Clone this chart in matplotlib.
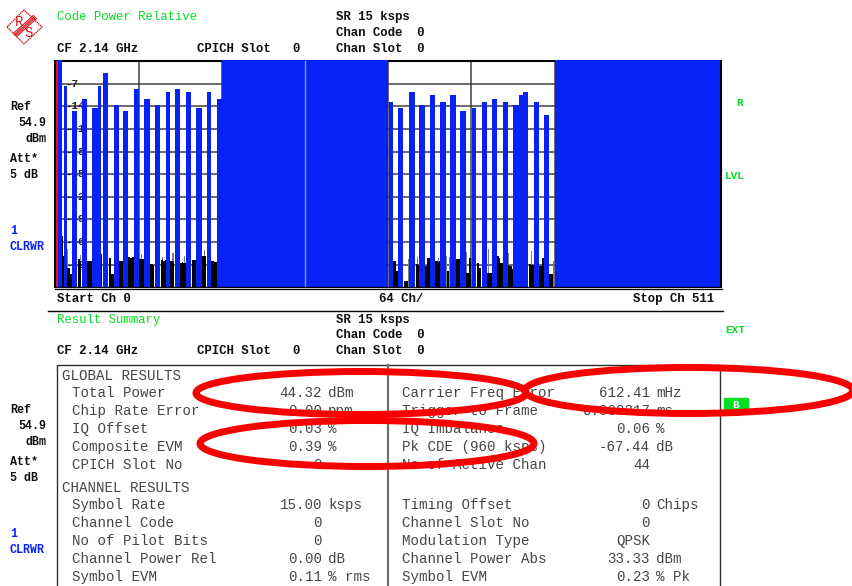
from matplotlib import pyplot as plt
from matplotlib.patches import Ellipse, Polygon, Rectangle

# code channel bars: start channel, end channel, level in dB (full scale blocks touch the top line)
bar_start = [2, 6.5, 12.9, 20.4, 28.1, 32.7, 36.5, 45, 51.9, 60.4, 68, 76.5, 85, 91.9, 100.4, 108, 116.5, 124.2, 128,
             256.5, 263.5, 272, 279.6, 288, 295.8, 303.5, 311.2, 320.4, 328, 335.8, 344.2, 352, 356.5, 359.6, 368,
             375.8, 384]
bar_end = [5, 8.8, 16.5, 24.2, 32.7, 35, 40.4, 48.8, 55.8, 64.2, 72.7, 80.4, 88, 95.8, 104.2, 112.7, 119.6, 128, 256,
           260, 267.3, 276.5, 284.2, 292, 300.4, 308, 315.8, 323.5, 332, 339.6, 348, 356.5, 359.6, 363.5, 372,
           379.6, 512]
bar_db = [0.4, -7.7, -15.4, -11.7, -14.5, -7.7, -3.7, -13.6, -15.4, -8.6, -11.7, -13.6, -9.6, -8.6, -9.6, -14.5, -9.6,
          -11.7, 0.4,
          -12.6, -14.5, -9.6, -13.6, -10.5, -12.6, -10.5, -15.4, -14.5, -12.6, -11.7, -12.6, -13.6, -10.5, -9.6,
          -12.6, -16.7, 0.4]

# noise floor between the bars
noise_ch = [5, 6, 9, 10, 11, 12, 17, 18, 19, 24, 25, 26, 27, 35, 41, 42, 43, 44, 49, 50, 51, 56, 57, 58, 59,
            64, 65, 66, 67, 73, 74, 75, 81, 82, 83, 84, 88, 89, 90, 96, 97, 98, 99, 105, 106, 107,
            113, 114, 115, 120, 121, 122, 123,
            260, 261, 262, 263, 268, 269, 270, 277, 278, 279, 284, 285, 286, 287, 292, 293, 294, 295,
            301, 302, 308, 309, 310, 316, 317, 318, 319, 324, 325, 326, 332, 333, 334, 335,
            340, 341, 342, 343, 348, 349, 350, 351, 364, 365, 366, 367, 372, 373, 374, 375, 380, 381, 382]
noise_db = [-54.2, -60.4, -64, -63.9, -66, -66, -61.4, -61.4, -62, -62, -62, -61.9, -62, -59.8, -61, -61, -66, -66,
            -62, -61.9, -62, -60.7, -60.8, -60.8, -60.7,
            -61.4, -61.4, -61.3, -61.4, -62.9, -62.9, -63, -61.5, -61.4, -62, -61.6, -61.9, -62, -61.9,
            -62.4, -62.3, -62.4, -62.5, -61.6, -61.7, -61.6, -60.3, -60.4, -60.3, -62, -62, -62.1, -62.2,
            -61.9, -62, -65, -65, -68, -68, -68, -62.9, -62.9, -63, -63.4, -63.4, -61, -61, -62, -62, -62.1, -62,
            -65, -65, -61.2, -61.2, -61.2, -65.5, -65.5, -60.8, -60.8, -62.4, -62.4, -63.9, -65.5, -65.5, -65.5, -65.6,
            -60.4, -61, -62.6, -62.6, -63.2, -63.4, -63.5, -64.3, -62.9, -62.9, -63, -63, -63.4, -63.4, -61, -61,
            -66, -66, -66]
spike_ch = [4, 8, 9, 19, 52, 66, 75, 82, 90, 99, 114, 124, 266, 271, 278, 294, 300, 303, 316, 326, 333, 344, 348, 366, 376, 383]
spike_db = [-57, -56.2, -58.3, -60, -60.2, -59.8, -62.8, -60.5, -59.5, -60.4, -58.6, -60.6,
            -64.5, -61.3, -60.6, -61, -60.4, -60.5, -59, -64.1, -58, -60, -59.5, -58.8, -61, -62]

grid_db = [-7, -14, -21, -28, -35, -42, -49, -56, -63]
grid_ch = [64, 128, 192, 256, 320, 384, 448]
tick_labels = ['-7', '-14', '-21', '-28', '-35', '-42', '-49', '-56', '-63']

# result table
global_names = ['Total Power', 'Chip Rate Error', 'IQ Offset', 'Composite EVM', 'CPICH Slot No']
global_vals = ['44.32', '0.00', '0.03', '0.39', '0']
global_units = ['dBm', 'ppm', '%', '%', '']
global_names2 = ['Carrier Freq Error', 'Trigger to Frame', 'IQ Imbalance', 'Pk CDE (960 ksps)', 'No of Active Chan']
global_vals2 = ['612.41', '0.000217', '0.06', '-67.44', '44']
global_units2 = ['mHz', 'ms', '%', 'dB', '']
chan_names = ['Symbol Rate', 'Channel Code', 'No of Pilot Bits', 'Channel Power Rel', 'Symbol EVM']
chan_vals = ['15.00', '0', '0', '0.00', '0.11']
chan_units = ['ksps', '', '', 'dB', '% rms']
chan_names2 = ['Timing Offset', 'Channel Slot No', 'Modulation Type', 'Channel Power Abs', 'Symbol EVM']
chan_vals2 = ['0', '0', 'QPSK', '33.33', '0.23']
chan_units2 = ['Chips', '', '', 'dBm', '% Pk']

MONO = 'Liberation Mono'
BLUE = '#0722f5'
GREEN = '#00e020'
TABLE_TEXT = '#454545'

fig = plt.figure(figsize=(8.53, 5.86), dpi=100)
fig.set_facecolor('white')

ax = fig.add_axes([55.5 / 853, 1 - 287.3 / 586, 665.6 / 853, 226.3 / 586])
ax.set_xlim(0, 512)
ax.set_ylim(-70, 0)
ax.set_xticks([])
ax.set_yticks([])
for name, s in ax.spines.items():
    s.set_color('black')
    s.set_linewidth(1.5)
    s.set_zorder(6)
ax.spines['top'].set_zorder(2.6)
ax.spines['bottom'].set_linewidth(0.9)

for d in grid_db:
    ax.axhline(d, color='#404040', lw=1.1, zorder=1)
for c in grid_ch:
    ax.axvline(c, color='#404040', lw=1.1, zorder=1)
for d, t in zip(grid_db, tick_labels):
    ax.text(7.3, d, t, ha='left', va='center', family=MONO, fontsize=7.8, weight='bold', color='#202020', zorder=1.5)

ax.bar(spike_ch, [d + 70 for d in spike_db], bottom=-70, width=0.8, align='edge', color='#808080', zorder=2)
ax.bar(noise_ch, [d + 70 for d in noise_db], bottom=-70, width=1.0, align='edge', color='black', zorder=2.5)
ax.bar(bar_start, [d + 70 for d in bar_db], bottom=-70, width=[e - s for s, e in zip(bar_start, bar_end)],
       align='edge', color=BLUE, zorder=3, clip_on=False)
ax.bar([0.5], [70], bottom=-70, width=1.5, align='edge', color='#e8141c', zorder=3)
ax.axvline(192, color='#7f95ff', lw=1.0, zorder=4)
ax.axvline(384, color='#a0a0a0', lw=0.8, zorder=2.8)

# overlay in pixel coordinates for the instrument text
ov = fig.add_axes([0, 0, 1, 1], facecolor='none')
ov.set_xlim(0, 853)
ov.set_ylim(586, 0)
ov.axis('off')


def label(x, y, s, size=8.9, color='#101010', weight='bold', ha='left'):
    ov.text(x, y, s, family=MONO, fontsize=size, color=color, weight=weight, ha=ha, va='center')


def header(y_top, y_mid, y_low, title):
    label(57, y_top, title, color=GREEN, weight='normal')
    label(336, y_top, 'SR 15 ksps')
    label(336, y_mid, 'Chan Code  0')
    label(57, y_low, 'CF 2.14 GHz')
    label(197, y_low, 'CPICH Slot   0')
    label(336, y_low, 'Chan Slot  0')


def side(y0):
    label(10, y0, 'Ref', size=8.4)
    label(18, y0 + 16, '54.9', size=8.4)
    label(26, y0 + 32, 'dBm', size=8.4)
    label(10, y0 + 52, 'Att*', size=8.4)
    label(10, y0 + 68, '5 dB', size=8.4)
    label(10, y0 + 124, '1', size=8.4, color=BLUE)
    label(10, y0 + 140, 'CLRWR', size=8.4, color=BLUE)


header(17, 33, 49, 'Code Power Relative')
header(320, 335, 351, 'Result Summary')
side(107)
side(410)

label(57, 299, 'Start Ch 0')
label(379, 299, '64 Ch/')
label(633, 299, 'Stop Ch 511')
label(736, 103, 'R', size=8, color=GREEN)
label(725, 176, 'LVL', size=8, color=GREEN)
label(725, 330, 'EXT', size=8, color=GREEN)

ov.plot([55, 722], [289.2, 289.2], color='black', lw=0.9)
ov.plot([48, 723], [310.5, 310.5], color='black', lw=1.0)

# table frame
ov.plot([57, 57, 720, 720], [586, 365, 365, 586], color='#303030', lw=1.0)
ov.plot([388, 388], [365, 586], color='#707070', lw=1.6)

label(62, 376, 'GLOBAL RESULTS', size=10.2, color=TABLE_TEXT, weight='normal')
label(62, 488, 'CHANNEL RESULTS', size=10.2, color=TABLE_TEXT, weight='normal')


def table_rows(ys, names, vals, units, x_name, x_val):
    for y, n, v, u in zip(ys, names, vals, units):
        label(x_name, y, n, size=10.2, color=TABLE_TEXT, weight='normal')
        label(x_val, y, v, size=10.2, color=TABLE_TEXT, weight='normal', ha='right')
        label(x_val + 6, y, u, size=10.2, color=TABLE_TEXT, weight='normal')


rows_top = [393, 411, 429, 447, 465]
rows_low = [505, 523, 541, 559, 577]
table_rows(rows_top, global_names, global_vals, global_units, 72, 322)
table_rows(rows_top, global_names2, global_vals2, global_units2, 402, 650)
table_rows(rows_low, chan_names, chan_vals, chan_units, 72, 322)
table_rows(rows_low, chan_names2, chan_vals2, chan_units2, 402, 650)

# green B flag
ov.add_patch(Rectangle((724, 398), 24, 13, color=GREEN, zorder=3))
ov.text(736, 404.5, 'B', family=MONO, fontsize=8, weight='bold', color='white', ha='center', va='center', zorder=4)

# logo
ov.add_patch(Polygon([(7, 27), (24, 10), (42, 27), (24, 44)], closed=True, fill=False, edgecolor='#d8141c', lw=1.0, ls=(0, (1, 0.5))))
for off in [-1.6, -0.5, 0.5, 1.6]:
    ov.plot([15 + off, 35 + off], [35 + off, 17 + off], color='#d8141c', lw=0.8)
ov.text(19.5, 21.5, 'R', family=MONO, fontsize=10, color='#d8141c', ha='center', va='center')
ov.text(28.5, 33, 'S', family=MONO, fontsize=10, color='#d8141c', ha='center', va='center')

# hand-drawn red rings
for cx, cy, w, h in [(361, 393, 330, 43), (367, 443.5, 334, 46), (689, 390.5, 328, 46)]:
    ov.add_patch(Ellipse((cx, cy), w, h, fill=False, edgecolor='#f80000', lw=5.0, zorder=8))

fig.savefig('out.png', dpi=100)
